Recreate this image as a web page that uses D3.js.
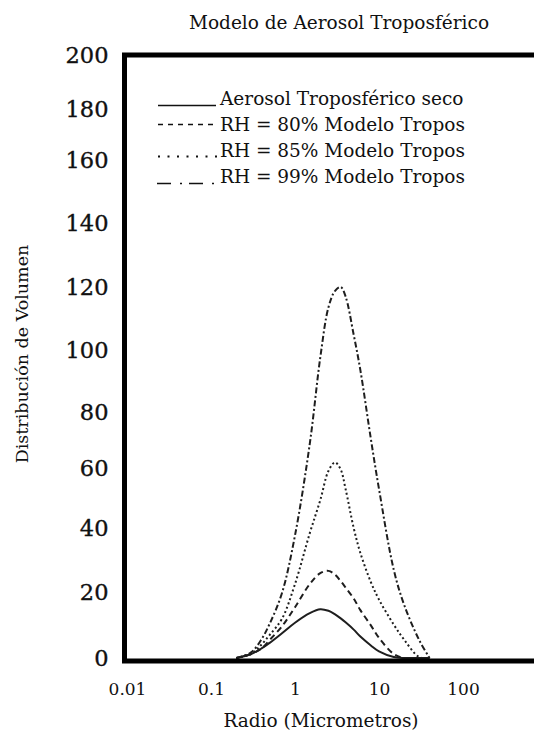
<!DOCTYPE html>
<html>
<head>
<meta charset="utf-8">
<script src="https://cdn.jsdelivr.net/npm/d3@7"></script>
<style>
  html, body { margin: 0; padding: 0; background: #fff; }
  svg { display: block; }
  text { font-family: "DejaVu Serif", serif; fill: #111; }
</style>
</head>
<body>
<svg id="chart" width="534" height="742"></svg>
<script>
// Radius grid (micrometres) shared by every curve
const radius = [0.2, 0.3, 0.4, 0.5, 0.7, 1, 1.5, 2, 2.5, 3, 3.5, 4, 5, 6, 8, 10, 15, 20, 30, 40];

// Volume distribution of each aerosol model on that grid
const drySeco = [0, 1.2, 2.9, 4.6, 7.5, 10.7, 13.6, 14.8, 14.3, 13.2, 12.0, 10.8, 8.6, 6.5, 3.8, 2.0, 0.3, 0, 0, 0];
const rh80    = [0, 1.2, 2.9, 5.5, 9.6, 15.4, 22.5, 25.9, 26.6, 25.4, 23.4, 21.4, 18.0, 14.5, 9.9, 6.1, 1.2, 0, 0, 0];
const rh85    = [0, 1.2, 4.1, 7.0, 11.9, 22.5, 38.4, 49.3, 59.0, 62.0, 59.5, 53.0, 40.0, 32.2, 23.1, 17.7, 10.1, 5.5, 0.3, 0];
const rh99    = [0, 1.7, 5.7, 10.4, 19.7, 37.7, 68.7, 97.6, 113.5, 118.8, 120.0, 117.0, 104.8, 93.5, 70.4, 53.0, 26.9, 16.0, 5.5, 0];

const seriesNames = [
  "Aerosol Troposférico seco",
  "RH = 80% Modelo Tropos",
  "RH = 85% Modelo Tropos",
  "RH = 99% Modelo Tropos"
];

// Axis ticks
const yTicks = [0, 20, 40, 60, 80, 100, 120, 140, 160, 180, 200];
const xTicks = [0.01, 0.1, 1, 10, 100];
const xTickLabels = ["0.01", "0.1", "1", "10", "100"];

const titleText = "Modelo de Aerosol Troposférico";
const xTitle = "Radio (Micrometros)";
const yTitle = "Distribución de Volumen";

// ---- layout ----
const svg = d3.select("#chart");
const frame = { left: 124.5, top: 55, bottom: 661, right: 560 };

const x = d3.scaleLog().domain([0.01, 1000]).range([127, 547]);
// the printed value axis is hand-spaced, so the scale follows its tick stops
const y = d3.scaleLinear()
  .domain(yTicks)
  .range([658, 592, 528, 468, 412, 350, 287, 223, 160, 109, 55]);

// series styles: solid, dashed, dotted, dash-dot
const styles = [
  { dash: null },
  { dash: "6,4" },
  { dash: "2,2.6" },
  { dash: "6,2.5,2,2.5" }
];

const seriesData = [drySeco, rh80, rh85, rh99];

const line = d3.line()
  .x(d => x(d[0]))
  .y(d => y(d[1]))
  .curve(d3.curveCatmullRom.alpha(0.5));

const curves = svg.append("g");
seriesData.forEach((vals, i) => {
  curves.append("path")
    .datum(radius.map((r, k) => [r, vals[k]]))
    .attr("d", line)
    .attr("fill", "none")
    .attr("stroke", "#1e1e1e")
    .attr("stroke-width", 2)
    .attr("stroke-dasharray", styles[i].dash);
});

// heavy frame
svg.append("path")
  .attr("d", `M${frame.right},${frame.top}H${frame.left}V${frame.bottom}H${frame.right}`)
  .attr("fill", "none")
  .attr("stroke", "#000")
  .attr("stroke-width", 5)
  .attr("stroke-linejoin", "miter");

// value axis labels
const yAxis = svg.append("g")
  .attr("transform", `translate(${frame.left},0)`)
  .call(d3.axisLeft(y).tickValues(yTicks).tickSize(0).tickPadding(16).tickFormat(d3.format("d")));
yAxis.select(".domain").remove();
yAxis.selectAll("text")
  .attr("font-family", "DejaVu Serif")
  .attr("font-size", 22.5)
  .attr("fill", "#111")
  .attr("stroke", "#111")
  .attr("stroke-width", 0.35);

// radius axis labels
const xAxis = svg.append("g")
  .attr("transform", `translate(0,${frame.bottom})`)
  .call(d3.axisBottom(x).tickValues(xTicks).tickSize(0).tickPadding(22)
    .tickFormat((d, i) => xTickLabels[i]));
xAxis.select(".domain").remove();
xAxis.selectAll("text")
  .attr("font-family", "DejaVu Serif")
  .attr("font-size", 17)
  .attr("fill", "#111");

// titles
svg.append("text")
  .attr("x", 339).attr("y", 29)
  .attr("text-anchor", "middle")
  .attr("font-size", 18.5)
  .text(titleText);

svg.append("text")
  .attr("x", 321).attr("y", 727)
  .attr("text-anchor", "middle")
  .attr("font-size", 18.5)
  .text(xTitle);

svg.append("text")
  .attr("transform", "translate(28,354) rotate(-90)")
  .attr("text-anchor", "middle")
  .attr("font-size", 17.5)
  .text(yTitle);

// legend
const legend = svg.append("g");
const rowBase = [104.5, 130.5, 156.5, 182.5];
seriesNames.forEach((name, i) => {
  const b = rowBase[i];
  const g = legend.append("g");
  if (i === 0) {
    g.append("line").attr("x1", 158).attr("x2", 216).attr("y1", b + 1).attr("y2", b + 1)
      .attr("stroke", "#111").attr("stroke-width", 1.6);
  } else if (i === 1) {
    g.append("line").attr("x1", 158).attr("x2", 216).attr("y1", b - 6).attr("y2", b - 6)
      .attr("stroke", "#111").attr("stroke-width", 1.4).attr("stroke-dasharray", "5,5");
  } else if (i === 2) {
    g.append("line").attr("x1", 158).attr("x2", 218).attr("y1", b).attr("y2", b)
      .attr("stroke", "#111").attr("stroke-width", 2).attr("stroke-dasharray", "2,7.5");
  } else {
    g.append("line").attr("x1", 157).attr("x2", 216).attr("y1", b + 1).attr("y2", b + 1)
      .attr("stroke", "#111").attr("stroke-width", 1.6).attr("stroke-dasharray", "14,9,2,7");
  }
  g.append("text")
    .attr("x", 220).attr("y", b)
    .attr("font-size", 18.5)
    .text(name);
});
</script>
</body>
</html>
